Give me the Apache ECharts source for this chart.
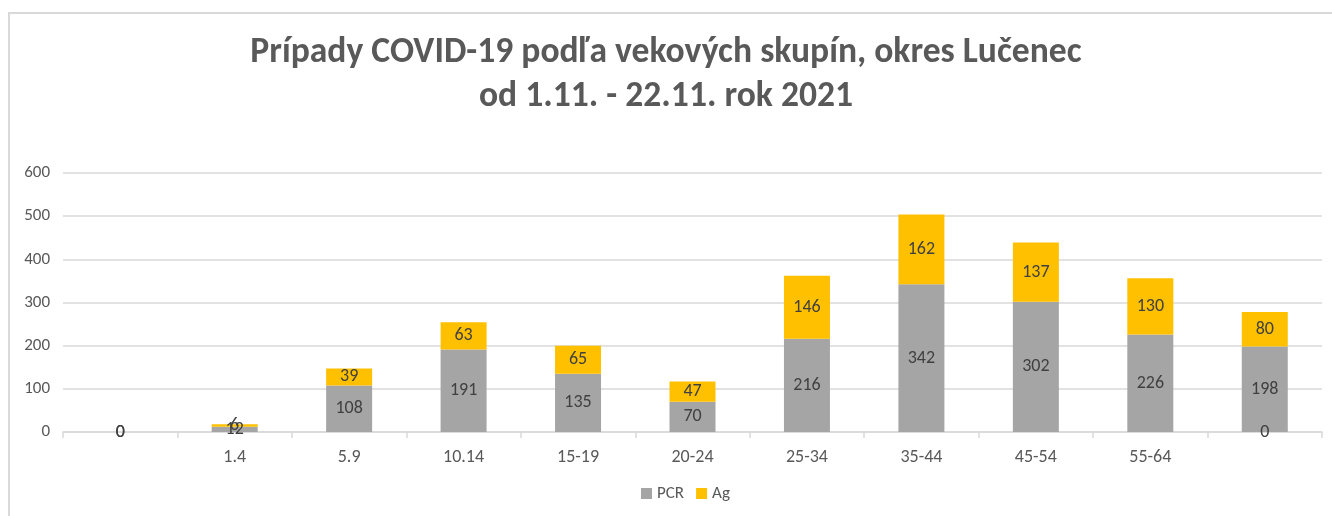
<!DOCTYPE html>
<html><head><meta charset="utf-8">
<script src="https://cdn.jsdelivr.net/npm/echarts@6/dist/echarts.min.js"></script>
<style>html,body{margin:0;padding:0;background:#fff}#c{width:1332px;height:516px}</style>
</head><body><div id="c"></div>
<script>
const categories = ['', '1.4', '5.9', '10.14', '15-19', '20-24', '25-34', '35-44', '45-54', '55-64', ''];
const pcr = [0, 12, 108, 191, 135, 70, 216, 342, 302, 226, 198];
const ag = [0, 6, 39, 63, 65, 47, 146, 162, 137, 130, 80];
const extra = [null, null, null, null, null, null, null, null, null, null, 0];
const yTicks = [0, 100, 200, 300, 400, 500, 600];

const chart = echarts.init(document.getElementById('c'), null, {renderer: 'canvas'});
const font = 'Calibri, Carlito, "Open Sans", sans-serif';
const lbl = {show: true, position: 'inside', color: '#404040', fontSize: 18, fontFamily: font};
chart.setOption({
  animation: false,
  title: {
    text: 'Prípady COVID-19 podľa vekových skupín, okres Lučenec\nod 1.11. - 22.11. rok 2021',
    left: 'center', top: 26,
    textStyle: {fontSize: 35.6, fontWeight: 'bold', color: '#595959', fontFamily: font, lineHeight: 44}
  },
  graphic: [{type: 'rect', shape: {x: 9, y: 13, width: 1340, height: 520},
    style: {fill: 'none', stroke: '#d9d9d9', lineWidth: 2}, silent: true}],
  grid: {left: 63, right: 10, top: 173, bottom: 84},
  legend: {
    data: ['PCR', 'Ag'], bottom: 9, left: 636, itemWidth: 11, itemHeight: 11, itemGap: 12,
    icon: 'rect', textStyle: {color: '#595959', fontSize: 17, fontFamily: font}
  },
  xAxis: {
    type: 'category', data: categories,
    axisLine: {lineStyle: {color: '#d9d9d9', width: 1.5}},
    axisTick: {show: true, alignWithLabel: false, length: 6, lineStyle: {color: '#d9d9d9', width: 1.5}},
    axisLabel: {color: '#595959', fontSize: 18, fontFamily: font, margin: 16}
  },
  yAxis: {
    type: 'value', min: 0, max: 600, interval: 100,
    axisLabel: {color: '#595959', fontSize: 17, fontFamily: font, margin: 13,
      formatter: v => yTicks.includes(v) ? String(v) : ''},
    splitLine: {lineStyle: {color: '#d9d9d9', width: 1.5}},
    axisLine: {show: false}
  },
  series: [
    {name: 'PCR', type: 'bar', stack: 's', data: pcr, barWidth: 46,
      itemStyle: {color: '#A5A5A5'}, label: lbl},
    {name: 'Ag', type: 'bar', stack: 's', data: ag, barWidth: 46,
      itemStyle: {color: '#FFC000'}, label: lbl},
    {name: 'x', type: 'bar', stack: 't', data: extra, barWidth: 46, barGap: '-100%',
      itemStyle: {color: '#A5A5A5'}, label: lbl}
  ]
});
</script></body></html>
